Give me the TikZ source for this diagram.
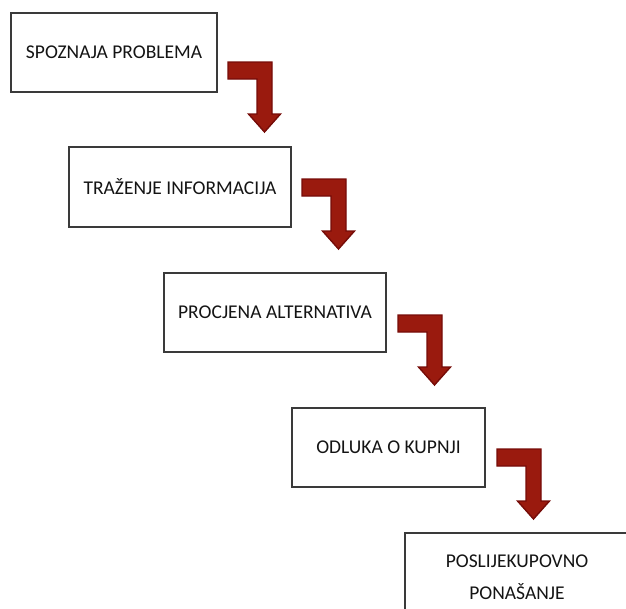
\documentclass[tikz,border=0pt]{standalone}
\usepackage{fontspec}
\setmainfont{Carlito}
\definecolor{boxline}{HTML}{3A3A3A}
\definecolor{arrowfill}{HTML}{9A1A0E}
\definecolor{arrowline}{HTML}{760C08}
\definecolor{txt}{HTML}{141414}
\begin{document}
\begin{tikzpicture}[x=1pt,y=-1pt,
  stepbox/.style={draw=boxline,line width=1.2pt,fill=white,inner sep=0pt,
    align=center,text=txt,font=\fontsize{19.5}{32}\selectfont},
  arrowstyle/.style={fill=arrowfill,draw=arrowline,line width=1.4pt,line join=miter},
  bentarrow/.pic={
    \filldraw[arrowstyle] (0,0) -- (44,0) -- (44,52) -- (52.5,52) -- (36.5,70)
      -- (20.5,52) -- (29,52) -- (29,17) -- (0,17) -- cycle;
  }]
\useasboundingbox (0,0) rectangle (626,608);
\clip (0,0) rectangle (626,608);
\node[stepbox,minimum width=206,minimum height=79] (b1) at (114,52.5) {SPOZNAJA PROBLEMA};
\node[stepbox,minimum width=222,minimum height=80] (b2) at (180,187) {TRAŽENJE INFORMACIJA};
\node[stepbox,minimum width=222,minimum height=79] (b3) at (275,312.5) {PROCJENA ALTERNATIVA};
\node[stepbox,minimum width=193,minimum height=79] (b4) at (388.5,447.5) {ODLUKA O KUPNJI};
\node[stepbox,minimum width=224,minimum height=88] (b5) at (517,577) {POSLIJEKUPOVNO\\PONAŠANJE};
\pic (a1) at (228,62) {bentarrow};
\pic (a2) at (302,179) {bentarrow};
\pic (a3) at (398,315) {bentarrow};
\pic (a4) at (497,449) {bentarrow};
\end{tikzpicture}
\end{document}
